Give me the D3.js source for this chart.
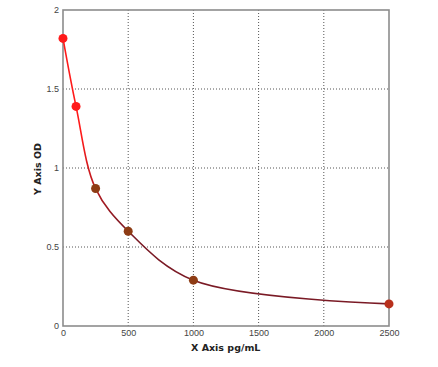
<!DOCTYPE html>
<html>
<head>
<meta charset="utf-8">
<script src="https://cdn.jsdelivr.net/npm/d3@7"></script>
<style>
  body { margin: 0; background: #fff; }
  svg { display: block; font-family: Tahoma, "DejaVu Sans", sans-serif; }
</style>
</head>
<body>
<div id="container"></div>
<script>
// Standard curve data
let concentrations = [0, 100, 250, 500, 1000, 2500];
let odValues = [1.82, 1.39, 0.87, 0.6, 0.29, 0.14];
let xTicks = [0, 500, 1000, 1500, 2000, 2500];
let yTicks = [0, 0.5, 1, 1.5, 2];

let chartWidth = 438, chartHeight = 367;
let plotLeft = 63, plotRight = 389, plotTop = 10, plotBottom = 326;

let svg = d3.select('#container')
  .append('svg')
  .attr('width', chartWidth)
  .attr('height', chartHeight);

let xScale = d3.scaleLinear().domain([0, 2500]).range([plotLeft, plotRight]);
let yScale = d3.scaleLinear().domain([0, 2]).range([plotBottom, plotTop]);

// Dotted grid lines
svg.append('g')
  .selectAll('line')
  .data(xTicks.slice(1, -1))
  .enter()
  .append('line')
  .attr('x1', d => xScale(d)).attr('x2', d => xScale(d))
  .attr('y1', plotTop).attr('y2', plotBottom)
  .attr('stroke', '#555')
  .attr('stroke-width', 1)
  .attr('stroke-dasharray', '1,2');

svg.append('g')
  .selectAll('line')
  .data(yTicks.slice(1, -1))
  .enter()
  .append('line')
  .attr('x1', plotLeft).attr('x2', plotRight)
  .attr('y1', d => yScale(d)).attr('y2', d => yScale(d))
  .attr('stroke', '#555')
  .attr('stroke-width', 1)
  .attr('stroke-dasharray', '1,2');

// Frame
svg.append('rect')
  .attr('x', plotLeft).attr('y', plotTop)
  .attr('width', plotRight - plotLeft).attr('height', plotBottom - plotTop)
  .attr('fill', 'none')
  .attr('stroke', '#8c8c8c')
  .attr('stroke-width', 1.6);

// Axes (labels only, no tick marks)
let xAxis = d3.axisBottom(xScale).tickValues(xTicks).tickSize(0).tickPadding(4)
  .tickFormat(d3.format('d'));
svg.append('g')
  .attr('transform', 'translate(0,' + plotBottom + ')')
  .call(xAxis)
  .call(g => g.select('.domain').remove())
  .selectAll('text')
  .attr('fill', '#444')
  .style('font-size', '9px');

let yAxis = d3.axisLeft(yScale).tickValues(yTicks).tickSize(0).tickPadding(4)
  .tickFormat(d => d);
svg.append('g')
  .attr('transform', 'translate(' + plotLeft + ',0)')
  .call(yAxis)
  .call(g => g.select('.domain').remove())
  .selectAll('text')
  .attr('fill', '#444')
  .style('font-size', '9px');

// Axis titles
svg.append('text')
  .attr('x', 191)
  .attr('y', 351)
  .style('font-size', '9.5px')
  .style('font-weight', 'bold')
  .attr('fill', '#222')
  .text('X Axis pg/mL');

svg.append('text')
  .attr('transform', 'translate(41,169) rotate(-90)')
  .attr('text-anchor', 'middle')
  .style('font-size', '9.5px')
  .style('font-weight', 'bold')
  .attr('fill', '#222')
  .text('Y Axis OD');

// Gradient for the fitted curve: red at top, maroon lower down
let grad = svg.append('defs').append('linearGradient')
  .attr('id', 'curveGrad')
  .attr('gradientUnits', 'userSpaceOnUse')
  .attr('x1', 0).attr('x2', 0)
  .attr('y1', yScale(1.2)).attr('y2', yScale(0.6));
grad.append('stop').attr('offset', '0%').attr('stop-color', '#ff1a1a');
grad.append('stop').attr('offset', '100%').attr('stop-color', '#7a1a25');

let points = concentrations.map((c, i) => ({ x: c, y: odValues[i] }));

let line = d3.line()
  .x(d => xScale(d.x))
  .y(d => yScale(d.y))
  .curve(d3.curveCatmullRom.alpha(0.5));

svg.append('path')
  .datum(points)
  .attr('d', line)
  .attr('fill', 'none')
  .attr('stroke', 'url(#curveGrad)')
  .attr('stroke-width', 1.6);

// Points
svg.append('g')
  .selectAll('circle')
  .data(points)
  .enter()
  .append('circle')
  .attr('cx', d => xScale(d.x))
  .attr('cy', d => yScale(d.y))
  .attr('r', 4.5)
  .attr('fill', d => d.y > 1 ? '#ff1a1a' : (d.y < 0.2 ? '#b8301c' : '#8e3c14'));
</script>
</body>
</html>
